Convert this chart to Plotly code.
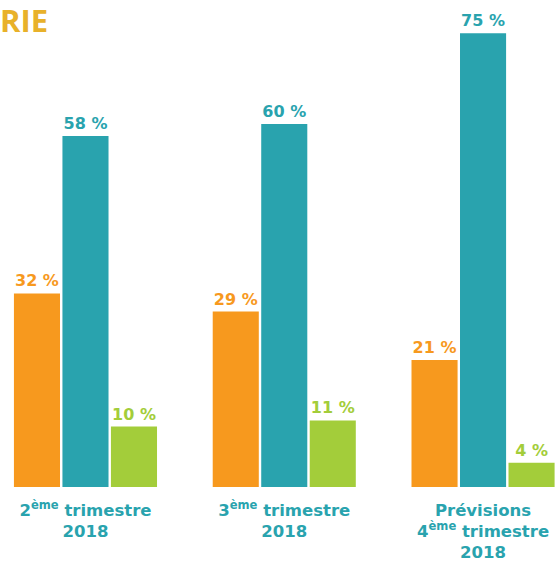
import plotly.graph_objects as go

categories = ["2<sup>ème</sup> trimestre<br>2018",
              "3<sup>ème</sup> trimestre<br>2018",
              "Prévisions<br>4<sup>ème</sup> trimestre<br>2018"]
series_a = [32, 29, 21]
series_b = [58, 60, 75]
series_c = [10, 11, 4]
colors = ["#F7991E", "#29A3AE", "#A3CD3A"]
FONT = "DejaVu Sans"

fig = go.Figure()
for vals, col in zip([series_a, series_b, series_c], colors):
    fig.add_trace(go.Bar(
        x=[0, 1, 2], y=vals,
        marker=dict(color=col, line=dict(width=0)),
        text=[f"{v} %" for v in vals], textposition="outside",
        textfont=dict(family=FONT, size=16, color=col, weight="bold"),
        cliponaxis=False, showlegend=False,
    ))

fig.update_layout(
    width=556, height=563,
    margin=dict(l=0, r=0, t=0, b=76),
    paper_bgcolor="white", plot_bgcolor="white",
    barmode="group", bargap=0.268, bargroupgap=0.05,
    xaxis=dict(range=[-0.430, 2.367], tickmode="array", tickvals=[0, 1, 2],
               ticktext=categories, showgrid=False, zeroline=False,
               showline=False, ticks="", ticklabelstandoff=11,
               tickfont=dict(family=FONT, size=16.5, color="#29A3AE", weight="bold")),
    yaxis=dict(range=[0, 80.5], visible=False, showgrid=False),
    annotations=[dict(text="RIE", xref="paper", yref="paper", x=-0.004, y=1.0,
                      xanchor="left", yanchor="top", yshift=3, showarrow=False,
                      font=dict(family="Open Sans", size=31, color="#E8B12A", weight="bold"))],
)
fig.write_html("out.html", config={"displayModeBar": False},
               post_script="document.body.style.margin='0';document.body.style.overflow='hidden';")
